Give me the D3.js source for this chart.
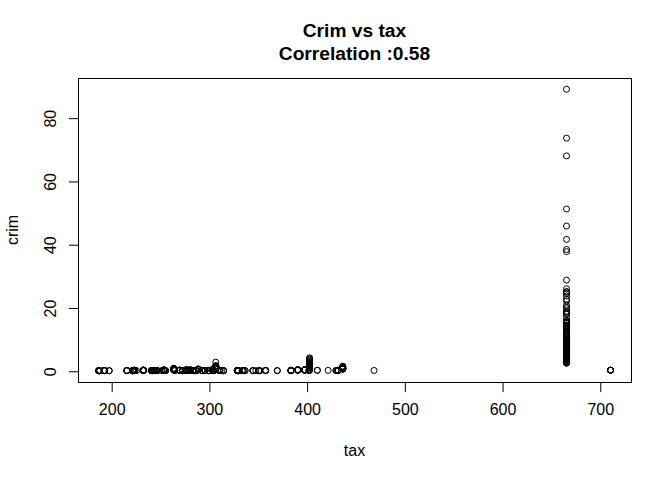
<!DOCTYPE html>
<html>
<head>
<meta charset="utf-8">
<script src="https://cdn.jsdelivr.net/npm/d3@7"></script>
<style>
  body { margin: 0; background: #fff; }
  svg text { font-family: "Liberation Sans", Arial, sans-serif; fill: #000; }
</style>
</head>
<body>
<div id="chartArea"></div>
<script>
// tax values below 500, each with the crim values plotted at that tax
var lowTax = [187, 188, 193, 198, 216, 222, 223, 224, 226, 233, 241, 242, 243, 244, 245, 247,
              252, 254, 255, 256, 264, 265, 270, 273, 276, 277, 279, 280, 281, 284, 285, 287,
              289, 293, 296, 300, 304, 305, 307, 311, 313, 315, 329, 330, 334, 335, 337, 345,
              348, 351, 352, 358, 370, 384, 391, 398, 402, 403, 411, 422, 430, 432, 437, 469];
var lowCrim = [
  [0.02, 0.03],
  [0.01, 0.04, 0.05, 0.03, 0.06, 0.08, 0.02],
  [0.03, 0.04, 0.06, 0.05, 0.08, 0.07, 0.09, 0.10],
  [0.02, 0.04],
  [0.06, 0.04, 0.08, 0.13, 0.05],
  [0.03, 0.02, 0.05, 0.04, 0.07, 0.06, 0.09],
  [0.05, 0.04, 0.06],
  [0.09, 0.11, 0.13, 0.14, 0.18, 0.10, 0.12, 0.15, 0.08, 0.20],
  [0.05],
  [0.12, 0.15, 0.17, 0.14, 0.09, 0.21, 0.19, 0.23, 0.11, 0.16],
  [0.04, 0.06],
  [0.02, 0.03],
  [0.06, 0.07, 0.04, 0.09],
  [0.10, 0.12],
  [0.04, 0.06, 0.08],
  [0.03, 0.04, 0.05, 0.06, 0.08, 0.09],
  [0.06, 0.04],
  [0.17, 0.22, 0.14, 0.33, 0.12, 0.25, 0.19, 0.27],
  [0.03, 0.06],
  [0.04],
  [0.53, 0.61, 0.72, 0.43, 0.57, 0.40, 0.68, 0.53, 0.78, 0.30, 0.36, 0.46],
  [0.08, 0.06],
  [0.13, 0.17, 0.10, 0.21, 0.24],
  [0.04, 0.06, 0.07, 0.05, 0.03],
  [0.11, 0.15, 0.18, 0.14, 0.16, 0.12, 0.19],
  [0.14, 0.21, 0.25, 0.20, 0.29, 0.33, 0.18, 0.24, 0.27, 0.37, 0.13],
  [0.09, 0.12, 0.10, 0.14],
  [0.05],
  [0.19, 0.23, 0.27, 0.34],
  [0.05, 0.07, 0.04],
  [0.03],
  [0.05, 0.03, 0.04, 0.06, 0.07, 0.09, 0.08, 0.10],
  [0.43, 0.59, 0.39, 0.50, 0.47],
  [0.03, 0.05, 0.06],
  [0.02, 0.03, 0.04, 0.05, 0.06, 0.09],
  [0.01, 0.02, 0.03, 0.04, 0.05, 0.06, 0.07],
  [0.17, 0.23, 0.35, 0.44, 0.28, 0.19, 0.53, 0.40, 0.12, 0.25, 0.31, 0.21, 0.14, 0.48],
  [0.05, 0.09, 0.08, 0.07, 0.11, 0.12, 0.10, 0.14],
  [0.63, 0.64, 0.63, 1.05, 0.78, 0.80, 0.73, 0.84, 0.67, 0.75, 1.25, 0.85, 1.23, 0.99,
   1.13, 1.35, 1.39, 1.15, 1.61, 1.61, 0.97, 1.00, 0.88, 1.14, 0.95, 0.77, 2.72],
  [0.11, 0.09, 0.14, 0.06, 0.10, 0.13, 0.08],
  [0.05],
  [0.02, 0.03, 0.04],
  [0.05, 0.04, 0.03, 0.06, 0.08, 0.09],
  [0.04, 0.03, 0.06, 0.05, 0.02, 0.07, 0.10, 0.11, 0.08, 0.09],
  [0.03],
  [0.01, 0.04, 0.06],
  [0.04, 0.05],
  [0.03, 0.04, 0.06],
  [0.03],
  [0.03, 0.02],
  [0.02, 0.04],
  [0.11, 0.12, 0.06, 0.09],
  [0.06, 0.04],
  [0.03, 0.05, 0.09, 0.21, 0.04, 0.06, 0.10, 0.07, 0.08, 0.11, 0.12],
  [0.18, 0.14, 0.29, 0.22, 0.27, 0.32, 0.26, 0.34],
  [0.21, 0.25, 0.24, 0.18, 0.27, 0.29, 0.22, 0.32, 0.37, 0.23, 0.30, 0.19],
  [0.04],
  [1.19, 1.41, 3.32, 4.10, 2.78, 2.38, 2.16, 2.37, 2.33, 2.73, 1.66, 1.50, 1.13, 2.15, 1.41,
   3.54, 2.45, 1.22, 1.34, 1.43, 1.27, 1.46, 1.83, 1.51, 2.24, 2.92, 2.01, 1.80, 2.30, 2.45,
   0.09, 0.31, 0.54, 0.82, 3.80],
  [0.16, 0.14],
  [0.13],
  [0.05, 0.06],
  [0.09, 0.12, 0.11, 0.15, 0.10, 0.17, 0.08, 0.07, 0.19],
  [0.80, 0.54, 0.65, 0.98, 0.88, 1.23, 0.69, 0.71, 1.42, 0.52, 0.61, 1.05, 0.74, 0.55, 1.38],
  [0.10]
];

// the tall column at tax = 666
var crim666 = [8.98, 3.85, 5.20, 4.26, 4.54, 3.84, 3.68, 4.22, 3.47, 4.56, 3.70, 13.52, 4.90,
  5.67, 6.54, 9.23, 8.27, 11.11, 18.50, 19.61, 15.29, 9.82, 23.65, 17.87, 88.98, 15.87, 9.19,
  7.99, 20.08, 16.81, 24.39, 22.60, 14.33, 8.15, 6.96, 5.29, 11.58, 8.64, 13.36, 8.72, 5.87,
  7.67, 38.35, 9.92, 25.05, 14.24, 9.60, 24.80, 41.53, 67.92, 20.72, 11.95, 7.40, 14.44, 51.14,
  14.05, 18.81, 28.66, 45.75, 18.08, 10.83, 25.94, 73.53, 11.82, 11.09, 7.02, 12.05, 7.05, 8.79,
  15.86, 12.25, 37.66, 7.37, 9.34, 8.49, 10.06, 6.44, 5.58, 13.91, 11.16, 14.42, 15.18, 13.68,
  9.39, 22.05, 9.72, 5.67, 9.97, 12.80, 10.67, 6.29, 9.92, 9.33, 7.53, 6.72, 5.44, 5.09, 8.25,
  9.51, 4.75, 4.67, 8.20, 7.75, 6.80, 4.81, 3.69, 6.65, 5.82, 7.84, 3.16, 3.77, 4.42, 15.58,
  13.08, 4.35, 4.04, 3.57, 4.65, 8.06, 6.39, 4.87, 15.02, 10.23, 10.83, 5.70, 5.73, 2.82, 2.38,
  3.67, 5.69, 4.84, 2.92, 2.45, 3.21, 2.63];

// the few tracts at tax = 711
var crim711 = [0.18, 0.18, 0.19, 0.18, 0.18];

var xTicks = [200, 300, 400, 500, 600, 700];
var yTicks = [0, 20, 40, 60, 80];
var titleLines = ["Crim vs tax", "Correlation :0.58"];

var width = 672, height = 480;
var margin = {top: 78, right: 41, bottom: 98, left: 78};

var points = [];
lowTax.forEach(function(t, i) {
  lowCrim[i].forEach(function(c) { points.push({tax: t, crim: c}); });
});
crim666.forEach(function(c) { points.push({tax: 666, crim: c}); });
crim711.forEach(function(c) { points.push({tax: 711, crim: c}); });

// R style axis range: data range stretched 4%
function padded(ext) {
  var d = (ext[1] - ext[0]) * 0.04;
  return [ext[0] - d, ext[1] + d];
}
var xscale = d3.scaleLinear()
  .domain(padded(d3.extent(points, function(d) { return d.tax; })))
  .range([margin.left, width - margin.right]);
var yscale = d3.scaleLinear()
  .domain(padded(d3.extent(points, function(d) { return d.crim; })))
  .range([height - margin.bottom, margin.top]);

var svg = d3.select('#chartArea').append('svg')
  .attr("width", width)
  .attr("height", height);

svg.append("g")
  .selectAll("circle").data(points).enter().append("circle")
  .attr("cx", function(d) { return xscale(d.tax); })
  .attr("cy", function(d) { return yscale(d.crim); })
  .attr("r", 3)
  .attr("fill", "none")
  .attr("stroke", "#000")
  .attr("stroke-width", 1);

// box
svg.append("rect")
  .attr("x", margin.left + 0.5)
  .attr("y", margin.top + 0.5)
  .attr("width", width - margin.left - margin.right)
  .attr("height", height - margin.top - margin.bottom)
  .attr("fill", "none")
  .attr("stroke", "#000")
  .attr("stroke-width", 1);

var xAxis = svg.append('g')
  .attr('transform', 'translate(0.5,' + (height - margin.bottom + 0.5) + ')')
  .call(d3.axisBottom(xscale).tickValues(xTicks).tickSize(9.6).tickPadding(12).tickFormat(d3.format("d")));
xAxis.select(".domain").remove();
xAxis.selectAll("line").attr("stroke", "#000");
xAxis.selectAll("text").style("font-size", "16px").attr("fill", "#000");

var yAxis = svg.append('g')
  .attr('transform', 'translate(' + (margin.left + 0.5) + ',0.5)')
  .call(d3.axisLeft(yscale).tickValues(yTicks).tickSize(9.6).tickFormat(d3.format("d")));
yAxis.select(".domain").remove();
yAxis.selectAll("line").attr("stroke", "#000");
yAxis.selectAll("text")
  .attr("x", 0).attr("dy", null)
  .attr("text-anchor", "middle")
  .attr("transform", "translate(-22.5,0) rotate(-90)")
  .style("font-size", "16px").attr("fill", "#000");

var cx = (margin.left + width - margin.right) / 2;
svg.selectAll(".title").data(titleLines).enter().append("text")
  .attr("class", "title")
  .attr("x", cx)
  .attr("y", function(d, i) { return 36.7 + i * 22.8; })
  .attr("text-anchor", "middle")
  .style("font-size", "19.2px")
  .style("font-weight", "bold")
  .text(function(d) { return d; });

svg.append("text")
  .attr("x", cx)
  .attr("y", 456)
  .attr("text-anchor", "middle")
  .style("font-size", "16px")
  .text("tax");

svg.append("text")
  .attr("transform", "translate(18," + ((margin.top + height - margin.bottom) / 2) + ") rotate(-90)")
  .attr("text-anchor", "middle")
  .style("font-size", "16px")
  .text("crim");
</script>
</body>
</html>
